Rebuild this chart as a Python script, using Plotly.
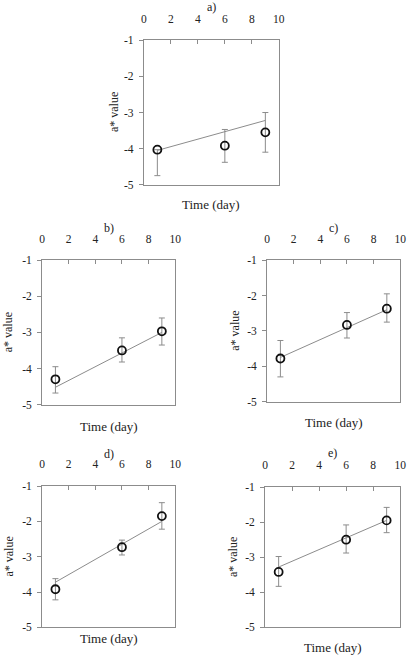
import plotly.graph_objects as go

W, H = 412, 656

days = [1, 6, 9]
panel_labels = ["a)", "b)", "c)", "d)", "e)"]

a_mean = [-4.03, -3.92, -3.55]
a_err_up = [0.0, 0.45, 0.55]
a_err_down = [0.72, 0.46, 0.55]
b_mean = [-4.30, -3.50, -2.97]
b_err_up = [0.35, 0.35, 0.37]
b_err_down = [0.38, 0.32, 0.38]
c_mean = [-3.78, -2.83, -2.37]
c_err_up = [0.51, 0.35, 0.42]
c_err_down = [0.52, 0.37, 0.38]
d_mean = [-3.92, -2.73, -1.85]
d_err_up = [0.30, 0.20, 0.38]
d_err_down = [0.30, 0.22, 0.37]
e_mean = [-3.42, -2.50, -1.95]
e_err_up = [0.44, 0.42, 0.37]
e_err_down = [0.41, 0.38, 0.35]

fit_x = [1, 9]
a_fit = [-4.05, -3.22]
b_fit = [-4.52, -3.00]
c_fit = [-3.75, -2.40]
d_fit = [-3.72, -2.00]
e_fit = [-3.28, -1.95]

x_ticks = [0, 2, 4, 6, 8, 10]
y_ticks = [-1, -2, -3, -4, -5]

# pixel boxes (left, right, top, bottom)
boxes = [
    (144, 282, 35, 182),
    (40, 176, 259, 406),
    (270, 406, 259, 403),
    (40, 176, 489, 633),
    (268, 406, 490, 633),
]
title_y = [1, 226, 226, 456, 455]
xtitle_y = [202, 428, 424, 644, 653]
ytitle_x = [113, 6, 237, 6, 235]

series = [
    (a_mean, a_err_up, a_err_down, a_fit),
    (b_mean, b_err_up, b_err_down, b_fit),
    (c_mean, c_err_up, c_err_down, c_fit),
    (d_mean, d_err_up, d_err_down, d_fit),
    (e_mean, e_err_up, e_err_down, e_fit),
]

FONT = "Liberation Serif"
GRAY = "#8c8c8c"

fig = go.Figure()
layout = dict(
    width=W, height=H, margin=dict(l=0, r=0, t=0, b=0),
    paper_bgcolor="white", plot_bgcolor="white", showlegend=False,
    font=dict(family=FONT, color="#222", size=11),
)
annotations = []

def px(x):
    return x / W

def py(y):
    return 1 - y / H

for i, ((mean, eu, ed, fit), (l, r, t, b)) in enumerate(zip(series, boxes)):
    n = i + 1
    xa = "x" if n == 1 else f"x{n}"
    ya = "y" if n == 1 else f"y{n}"
    fig.add_trace(go.Scatter(x=fit_x, y=fit, mode="lines",
                             line=dict(color=GRAY, width=1),
                             xaxis=xa, yaxis=ya, hoverinfo="skip"))
    fig.add_trace(go.Scatter(
        x=days, y=mean, mode="markers",
        marker=dict(symbol="circle-open", size=8, color="#111",
                    line=dict(width=1.8, color="#111")),
        error_y=dict(type="data", symmetric=False, array=eu, arrayminus=ed,
                     color=GRAY, thickness=1, width=3),
        xaxis=xa, yaxis=ya))
    layout[f"xaxis{'' if n == 1 else n}"] = dict(
        domain=[px(l), px(r)], anchor=ya, side="top", range=[0, 10],
        tickvals=x_ticks, ticks="inside", ticklen=4, tickcolor=GRAY,
        showline=True, linecolor=GRAY, linewidth=1, mirror=True,
        showgrid=False, zeroline=False, ticklabelstandoff=12,
        tickfont=dict(family=FONT, size=11.5, color="#222"))
    layout[f"yaxis{'' if n == 1 else n}"] = dict(
        domain=[py(b), py(t)], anchor=xa, range=[-5, -1],
        tickvals=y_ticks, ticktext=[str(v) for v in y_ticks],
        ticks="outside", ticklen=4, tickcolor=GRAY,
        showline=True, linecolor=GRAY, linewidth=1, mirror=True,
        showgrid=False, zeroline=False, ticklabelstandoff=3,
        tickfont=dict(family=FONT, size=11.5, color="#222"))
    cx = (l + r) / 2
    annotations.append(dict(text=panel_labels[i], x=px(cx), y=py(title_y[i]),
                            xref="paper", yref="paper", showarrow=False,
                            xanchor="center", yanchor="middle",
                            font=dict(family=FONT, size=12, color="#222")))
    annotations.append(dict(text="Time (day)", x=px(cx), y=py(xtitle_y[i]),
                            xref="paper", yref="paper", showarrow=False,
                            xanchor="center", yanchor="middle",
                            font=dict(family=FONT, size=13, color="#222")))
    annotations.append(dict(text="a* value", x=px(ytitle_x[i]), y=py((t + b) / 2),
                            xref="paper", yref="paper", showarrow=False,
                            textangle=-90, xanchor="center", yanchor="middle",
                            font=dict(family=FONT, size=12, color="#222")))

layout["annotations"] = annotations
fig.update_layout(**layout)
fig.write_html("out.html")
